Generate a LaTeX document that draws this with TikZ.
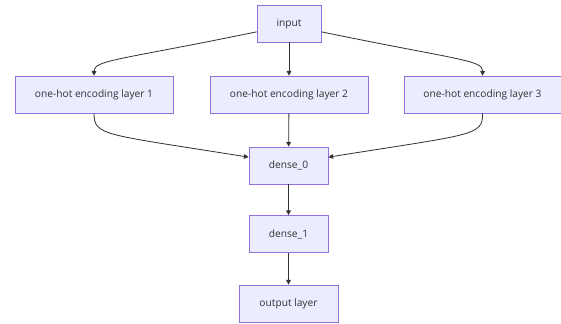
\documentclass[tikz,border=0pt]{standalone}
\usepackage{fontspec}
\setmainfont{Open Sans}
\usepackage{tikz}
\usetikzlibrary{arrows.meta}
\definecolor{boxfill}{RGB}{236, 236, 255}
\definecolor{boxline}{RGB}{147, 112, 219}
\definecolor{wire}{RGB}{51, 51, 51}

\tikzset{
  layer/.style={draw=boxline, fill=boxfill, line width=0.6pt, minimum height=1.11cm,
                inner sep=0pt, font=\fontsize{8.7}{10}\selectfont, text=wire},
  edge/.style={-{Triangle[length=4pt, width=4pt]}, draw=wire, line width=0.7pt}
}

\begin{document}
\begin{tikzpicture}[x=0.03cm, y=-0.03cm]

  \useasboundingbox (0, 0) rectangle (561, 323);

  % boxes
  \node[layer, minimum width=1.92cm] (in) at (289, 23.5) {input};
  \node[layer, minimum width=4.74cm] (enc1) at (94, 94.5) {one-hot encoding layer 1};
  \node[layer, minimum width=4.74cm] (enc2) at (289, 94.5) {one-hot encoding layer 2};
  \node[layer, minimum width=4.71cm] (enc3) at (482.5, 94.5) {one-hot encoding layer 3};
  \node[layer, minimum width=2.37cm] (dense0) at (288.5, 165.5) {dense\_0};
  \node[layer, minimum width=2.37cm] (dense1) at (288.5, 234) {dense\_1};
  \node[layer, minimum width=2.97cm] (out) at (288.5, 303.5) {output layer};

  % input fans out
  \draw[edge] ([yshift=-0.25cm]in.west) .. controls (120, 60) and (94, 60) .. (enc1.north);
  \draw[edge] (in) -- (enc2);
  \draw[edge] ([yshift=-0.25cm]in.east) .. controls (458, 60) and (483, 60) .. (enc3.north);

  % encodings merge into dense_0
  \draw[edge] (enc1.south) .. controls (94, 136) and (104, 134) .. ([yshift=0.25cm]dense0.west);
  \draw[edge] (enc2) -- (dense0);
  \draw[edge] (enc3.south) .. controls (483, 136) and (473, 134) .. ([yshift=0.25cm]dense0.east);

  % stack
  \draw[edge] (dense0) -- (dense1);
  \draw[edge] (dense1) -- (out);

\end{tikzpicture}
\end{document}
